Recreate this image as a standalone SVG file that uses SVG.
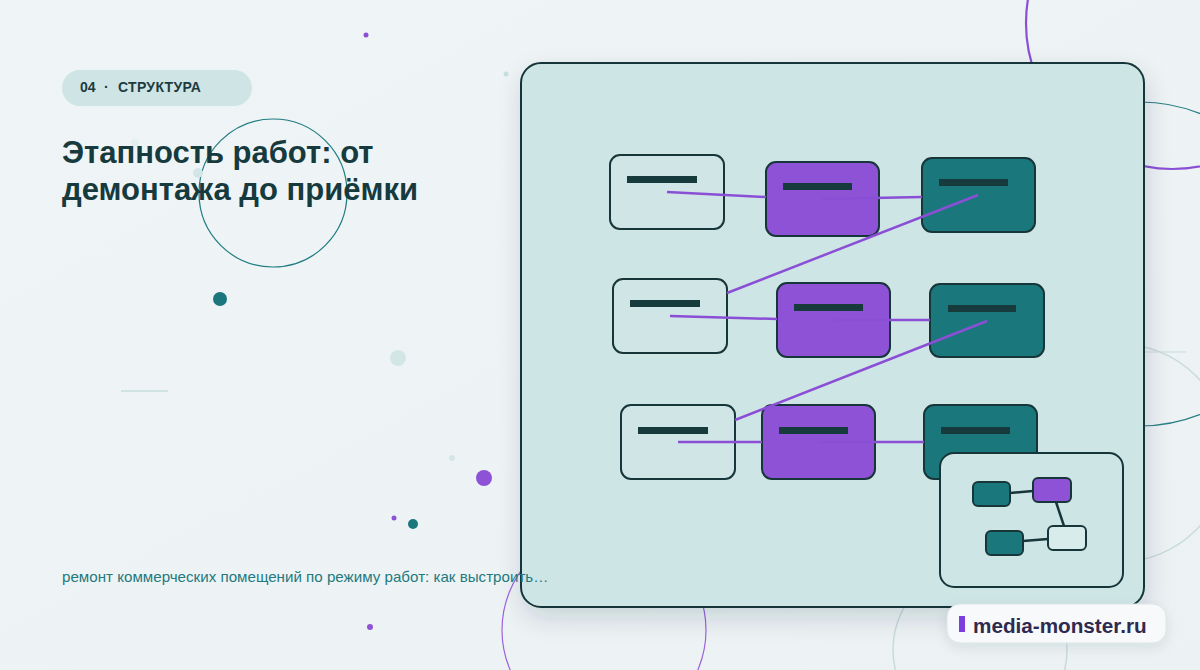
<svg xmlns="http://www.w3.org/2000/svg" width="1200" height="670" viewBox="0 0 1200 670">
  <defs>
    <style>
      .node { stroke: #17363a; stroke-width: 2; }
      .light { fill: #cfe5e6; }
      .purple { fill: #8e52d6; }
      .teal { fill: #1a787c; }
      .bar { fill: #173a3d; }
      .edge { stroke: #8b4fd6; stroke-width: 2.5; fill: none; stroke-linecap: butt; }
      .mini { stroke: #17363a; stroke-width: 2; }
      .miniedge { stroke: #17363a; stroke-width: 2.5; }
      .ring { fill: none; }
      .sans { font-family: "Liberation Sans", Arial, sans-serif; }
      .tag { font-size: 14px; font-weight: bold; fill: #1d3b3f; }
    </style>
    <linearGradient id="bg" x1="0" y1="0" x2="1" y2="1">
      <stop offset="0" stop-color="#eff5f6"/>
      <stop offset="1" stop-color="#ecf2f4"/>
    </linearGradient>
    <filter id="shadow" x="-10%" y="-10%" width="125%" height="130%">
      <feDropShadow dx="2" dy="10" stdDeviation="12" flood-color="#17363a" flood-opacity="0.16"/>
    </filter>
    <filter id="softshadow" x="-20%" y="-40%" width="140%" height="190%">
      <feDropShadow dx="0" dy="4" stdDeviation="6" flood-color="#17363a" flood-opacity="0.10"/>
    </filter>
  </defs>

  <!-- background -->
  <rect x="0" y="0" width="1200" height="670" fill="url(#bg)"/>

  <!-- decorative rings and dots -->
  <g id="decor">
    <circle class="ring" cx="273" cy="193" r="74" stroke="#1f7b80" stroke-width="1.2"/>
    <circle class="ring" cx="1172" cy="23" r="146" stroke="#8b4fd6" stroke-width="2.2"/>
    <circle class="ring" cx="1140" cy="264" r="162" stroke="#2a7f84" stroke-width="1.2"/>
    <circle class="ring" cx="1119" cy="453" r="109" stroke="#c9dadb" stroke-width="1.5"/>
    <line x1="1140" y1="352" x2="1186" y2="352" stroke="#c9dadb" stroke-width="1.2"/>
    <circle class="ring" cx="604" cy="630" r="102" stroke="#9b62dc" stroke-width="1.2"/>
    <circle class="ring" cx="980" cy="650" r="87" stroke="#c9dadb" stroke-width="1.5"/>
    <circle cx="366" cy="35" r="2.5" fill="#8b4fd6"/>
    <circle cx="506" cy="74" r="2.5" fill="#c9dfdf"/>
    <circle cx="135" cy="143" r="4" fill="#e3eeef"/>
    <circle cx="198" cy="173" r="5" fill="#d3e6e6"/>
    <circle cx="220" cy="299" r="7" fill="#1a787c"/>
    <circle cx="398" cy="358" r="8" fill="#d3e6e6"/>
    <line x1="121" y1="391" x2="168" y2="391" stroke="#cfe3e3" stroke-width="2"/>
    <circle cx="452" cy="458" r="3" fill="#d3e6e6"/>
    <circle cx="484" cy="478" r="8" fill="#8e52d6"/>
    <circle cx="394" cy="518" r="2.5" fill="#8e52d6"/>
    <circle cx="413" cy="524" r="5" fill="#1a787c"/>
    <circle cx="370" cy="627" r="3" fill="#8e52d6"/>
  </g>

  <!-- header texts -->
  <g id="tag">
    <rect x="62" y="70" width="190" height="36" rx="18" fill="#cfe4e5"/>
    <text class="sans tag" x="80" y="92">04</text>
    <text class="sans tag" x="104" y="92">·</text>
    <text class="sans tag" x="118" y="92" letter-spacing="0.3">СТРУКТУРА</text>
  </g>
  <g id="title">
    <text class="sans" x="62" y="163" font-size="31" font-weight="bold" fill="#163a3d">Этапность работ: от</text>
    <text class="sans" x="62" y="200" font-size="31" font-weight="bold" fill="#163a3d">демонтажа до приёмки</text>
  </g>

  <!-- main panel -->
  <g id="panel">
    <rect x="521" y="63" width="623" height="544" rx="20" fill="#cee5e6" stroke="#17363a" stroke-width="2" filter="url(#shadow)"/>
  </g>

  <!-- nodes -->
  <g id="node-a1"><rect class="node light" x="610" y="155" width="114" height="74" rx="10"/><rect class="bar" x="627" y="176" width="70" height="7"/></g>
  <g id="node-b1"><rect class="node purple" x="766" y="162" width="113" height="74" rx="10"/><rect class="bar" x="783" y="183" width="69" height="7"/></g>
  <g id="node-c1"><rect class="node teal" x="922" y="158" width="113" height="74" rx="10"/><rect class="bar" x="939" y="179" width="69" height="7"/></g>
  <g id="node-a2"><rect class="node light" x="613" y="279" width="114" height="74" rx="10"/><rect class="bar" x="630" y="300" width="70" height="7"/></g>
  <g id="node-b2"><rect class="node purple" x="777" y="283" width="113" height="74" rx="10"/><rect class="bar" x="794" y="304" width="69" height="7"/></g>
  <g id="node-c2"><rect class="node teal" x="930" y="284" width="114" height="73" rx="10"/><rect class="bar" x="948" y="305" width="68" height="7"/></g>
  <g id="node-a3"><rect class="node light" x="621" y="405" width="114" height="74" rx="10"/><rect class="bar" x="638" y="427" width="70" height="7"/></g>
  <g id="node-b3"><rect class="node purple" x="762" y="405" width="113" height="74" rx="10"/><rect class="bar" x="779" y="427" width="69" height="7"/></g>
  <g id="node-c3"><rect class="node teal" x="924" y="405" width="113" height="74" rx="10"/><rect class="bar" x="941" y="427" width="69" height="7"/></g>

  <!-- connectors -->
  <g id="connectors">
    <line class="edge" x1="667" y1="192" x2="766" y2="197"/>
    <line class="edge" x1="822" y1="199" x2="922" y2="197"/>
    <line class="edge" x1="978" y1="195" x2="727" y2="293"/>
    <line class="edge" x1="670" y1="316" x2="777" y2="319"/>
    <line class="edge" x1="833" y1="320" x2="930" y2="320"/>
    <line class="edge" x1="987" y1="321" x2="735" y2="420"/>
    <line class="edge" x1="678" y1="442" x2="762" y2="442"/>
    <line class="edge" x1="818" y1="442" x2="924" y2="442"/>
  </g>

  <!-- inset minimap -->
  <g id="inset">
    <rect x="940" y="453" width="183" height="134" rx="14" fill="#cee5e6" stroke="#17363a" stroke-width="2"/>
    <line class="miniedge" x1="1010" y1="493" x2="1033" y2="491"/>
    <line class="miniedge" x1="1056" y1="502" x2="1064" y2="526"/>
    <line class="miniedge" x1="1023" y1="541" x2="1048" y2="539"/>
    <rect class="mini teal" x="973" y="482" width="37" height="24" rx="5"/>
    <rect class="mini purple" x="1033" y="478" width="38" height="24" rx="5"/>
    <rect class="mini teal" x="986" y="531" width="37" height="24" rx="5"/>
    <rect class="mini" x="1048" y="526" width="38" height="24" rx="5" fill="#d9ecec"/>
  </g>

  <!-- subtitle (drawn over panel edge) -->
  <g id="subtitle">
    <text class="sans" x="62" y="582" font-size="15.15" fill="#23797e">ремонт коммерческих помещений по режиму работ: как выстроить…</text>
  </g>

  <!-- watermark -->
  <g id="watermark">
    <rect x="947" y="604" width="219" height="39" rx="13" fill="#f7f9fa" stroke="#dbe4e6" stroke-width="1" filter="url(#softshadow)"/>
    <rect x="959" y="616" width="6" height="16" fill="#7b3fe0"/>
    <text class="sans" x="973" y="633" font-size="20.7" font-weight="bold" fill="#2f2a4f">media-monster.ru</text>
  </g>
</svg>
